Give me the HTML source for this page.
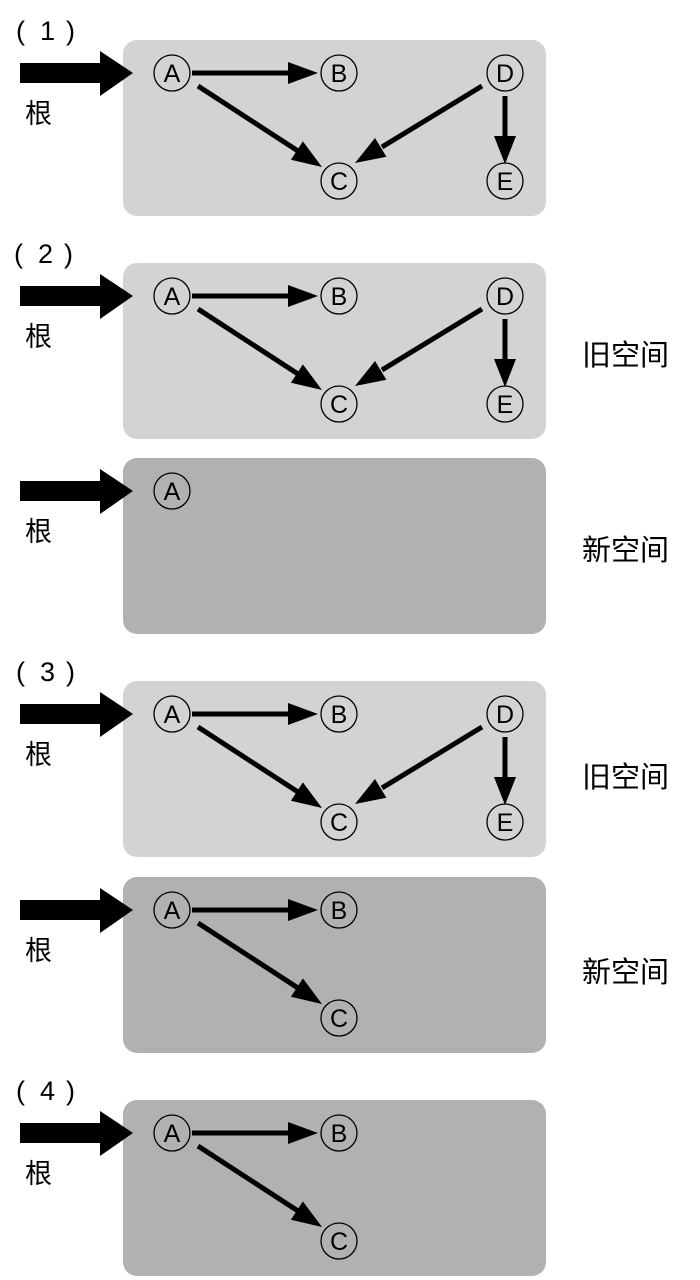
<!DOCTYPE html>
<html><head><meta charset="utf-8"><style>
html,body{margin:0;padding:0;background:#fff;width:700px;height:1280px;overflow:hidden}
svg{display:block}
text{font-family:"Liberation Sans","Noto Sans CJK SC",sans-serif;fill:#000}
.n{font-size:25px;text-anchor:middle}
.c{font-size:27px}
.r{font-size:29px}
</style></head><body>
<svg width="700" height="1280" viewBox="0 0 700 1280" xmlns="http://www.w3.org/2000/svg">
<g id="p1">
<rect x="123" y="40" width="423" height="176" rx="14" fill="#d3d3d3"/>
<polygon points="20,63 100,63 100,51 133,73 100,96 100,83 20,83" fill="#000"/>
<text x="25" y="123" class="c">根</text>
<text x="16" y="40" class="c">(</text><text x="40" y="40" class="c">1</text><text x="66" y="40" class="c">)</text>
<g fill="none" stroke="#000" stroke-width="1.3">
<circle cx="172" cy="73" r="18"/><circle cx="339" cy="73" r="18"/><circle cx="339" cy="181" r="18"/><circle cx="505" cy="73" r="18"/><circle cx="505" cy="181" r="18"/></g>
<g stroke="#000" stroke-width="5"><line x1="192" y1="73" x2="292" y2="73"/><line x1="198" y1="86" x2="298" y2="151"/><line x1="482" y1="86" x2="382" y2="147"/><line x1="505" y1="96" x2="505" y2="138"/></g>
<g fill="#000"><polygon points="318,73 288,62 288,84"/><polygon points="322,167 290.9,159.8 302.9,141.4"/><polygon points="355,163 386.4,156.8 375,138"/><polygon points="505,164 494,136 516,136"/></g>
<text x="172" y="82" class="n">A</text><text x="339" y="82" class="n">B</text><text x="339" y="190" class="n">C</text><text x="505" y="82" class="n">D</text><text x="505" y="190" class="n">E</text>
</g>

<g>
<rect x="123" y="263" width="423" height="176" rx="14" fill="#d3d3d3"/>
<polygon points="20,286 100,286 100,274 133,296 100,319 100,306 20,306" fill="#000"/>
<text x="25" y="346" class="c">根</text>
<text x="14" y="263" class="c">(</text><text x="38" y="263" class="c">2</text><text x="64" y="263" class="c">)</text>
<g fill="none" stroke="#000" stroke-width="1.3">
<circle cx="172" cy="296" r="18"/><circle cx="339" cy="296" r="18"/><circle cx="339" cy="404" r="18"/><circle cx="505" cy="296" r="18"/><circle cx="505" cy="404" r="18"/></g>
<g stroke="#000" stroke-width="5"><line x1="192" y1="296" x2="292" y2="296"/><line x1="198" y1="309" x2="298" y2="374"/><line x1="482" y1="309" x2="382" y2="370"/><line x1="505" y1="319" x2="505" y2="361"/></g>
<g fill="#000"><polygon points="318,296 288,285 288,307"/><polygon points="322,390 290.9,382.8 302.9,364.4"/><polygon points="355,386 386.4,379.8 375,361"/><polygon points="505,387 494,359 516,359"/></g>
<text x="172" y="305" class="n">A</text><text x="339" y="305" class="n">B</text><text x="339" y="413" class="n">C</text><text x="505" y="305" class="n">D</text><text x="505" y="413" class="n">E</text>
<text x="582" y="365" class="r">旧空间</text>
</g>

<g>
<rect x="123" y="458" width="423" height="176" rx="14" fill="#b3b0b0"/>
<polygon points="20,481 100,481 100,469 133,491 100,514 100,501 20,501" fill="#000"/>
<text x="25" y="541" class="c">根</text>
<circle cx="172" cy="491" r="18" fill="none" stroke="#000" stroke-width="1.3"/>
<text x="172" y="500" class="n">A</text>
<text x="582" y="560" class="r">新空间</text>
</g>

<g>
<rect x="123" y="681" width="423" height="176" rx="14" fill="#d3d3d3"/>
<polygon points="20,704 100,704 100,692 133,714 100,737 100,724 20,724" fill="#000"/>
<text x="25" y="764" class="c">根</text>
<text x="16" y="681" class="c">(</text><text x="40" y="681" class="c">3</text><text x="66" y="681" class="c">)</text>
<g fill="none" stroke="#000" stroke-width="1.3">
<circle cx="172" cy="714" r="18"/><circle cx="339" cy="714" r="18"/><circle cx="339" cy="822" r="18"/><circle cx="505" cy="714" r="18"/><circle cx="505" cy="822" r="18"/></g>
<g stroke="#000" stroke-width="5"><line x1="192" y1="714" x2="292" y2="714"/><line x1="198" y1="727" x2="298" y2="792"/><line x1="482" y1="727" x2="382" y2="788"/><line x1="505" y1="737" x2="505" y2="779"/></g>
<g fill="#000"><polygon points="318,714 288,703 288,725"/><polygon points="322,808 290.9,800.8 302.9,782.4"/><polygon points="355,804 386.4,797.8 375,779"/><polygon points="505,805 494,777 516,777"/></g>
<text x="172" y="723" class="n">A</text><text x="339" y="723" class="n">B</text><text x="339" y="831" class="n">C</text><text x="505" y="723" class="n">D</text><text x="505" y="831" class="n">E</text>
<text x="582" y="787" class="r">旧空间</text>
</g>

<g>
<rect x="123" y="877" width="423" height="176" rx="14" fill="#b3b0b0"/>
<polygon points="20,900 100,900 100,888 133,910 100,933 100,920 20,920" fill="#000"/>
<text x="25" y="960" class="c">根</text>
<g fill="none" stroke="#000" stroke-width="1.3">
<circle cx="172" cy="910" r="18"/><circle cx="339" cy="910" r="18"/><circle cx="339" cy="1018" r="18"/></g>
<g stroke="#000" stroke-width="5"><line x1="192" y1="910" x2="292" y2="910"/><line x1="198" y1="923" x2="298" y2="988"/></g>
<g fill="#000"><polygon points="318,910 288,899 288,921"/><polygon points="322,1004 290.9,996.8 302.9,978.4"/></g>
<text x="172" y="919" class="n">A</text><text x="339" y="919" class="n">B</text><text x="339" y="1027" class="n">C</text>
<text x="582" y="982" class="r">新空间</text>
</g>

<g>
<rect x="123" y="1100" width="423" height="176" rx="14" fill="#b3b0b0"/>
<polygon points="20,1123 100,1123 100,1111 133,1133 100,1156 100,1143 20,1143" fill="#000"/>
<text x="25" y="1183" class="c">根</text>
<text x="16" y="1100" class="c">(</text><text x="40" y="1100" class="c">4</text><text x="66" y="1100" class="c">)</text>
<g fill="none" stroke="#000" stroke-width="1.3">
<circle cx="172" cy="1133" r="18"/><circle cx="339" cy="1133" r="18"/><circle cx="339" cy="1241" r="18"/></g>
<g stroke="#000" stroke-width="5"><line x1="192" y1="1133" x2="292" y2="1133"/><line x1="198" y1="1146" x2="298" y2="1211"/></g>
<g fill="#000"><polygon points="318,1133 288,1122 288,1144"/><polygon points="322,1227 290.9,1219.8 302.9,1201.4"/></g>
<text x="172" y="1142" class="n">A</text><text x="339" y="1142" class="n">B</text><text x="339" y="1250" class="n">C</text>
</g>
</svg>
</body></html>
